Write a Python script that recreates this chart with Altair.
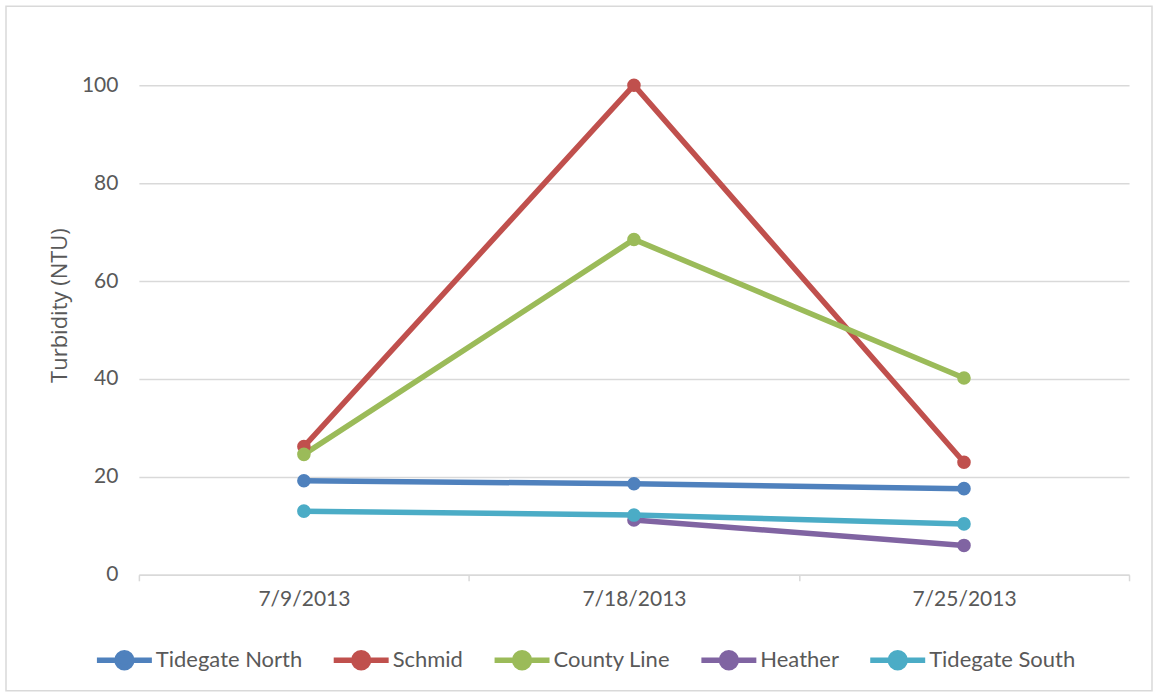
import altair as alt
import pandas as pd

dates = ["7/9/2013", "7/18/2013", "7/25/2013"]
series = ["Tidegate North", "Schmid", "County Line", "Heather", "Tidegate South"]
tidegate_north = [19.2, 18.6, 17.6]
schmid = [26.2, 100.0, 23.0]
county_line = [24.6, 68.5, 40.2]
heather = [None, 11.2, 6.0]
tidegate_south = [13.0, 12.2, 10.4]
colors = ["#4F81BD", "#C0504D", "#9BBB59", "#8064A2", "#4BACC6"]
y_ticks = [0, 20, 40, 60, 80, 100]

rows = []
for name, vals in zip(series, [tidegate_north, schmid, county_line, heather, tidegate_south]):
    for d, v in zip(dates, vals):
        if v is not None:
            rows.append({"date": d, "series": name, "value": v})
df = pd.DataFrame(rows)

FONT = "Lato"
TXT = "#595959"
GRID = "#d9d9d9"

x = alt.X(
    "date:N", sort=dates, bandPosition=0.5,
    scale=alt.Scale(type="band", paddingInner=0, paddingOuter=0),
    axis=alt.Axis(title=None, tickBand="extent", grid=False, domainColor=GRID,
                  domainWidth=1.5, tickColor=GRID, tickSize=6, tickWidth=1.5,
                  labelPadding=8, labelFontSize=21, labelColor=TXT, labelFont=FONT,
                  labelAngle=0),
)
y = alt.Y(
    "value:Q", scale=alt.Scale(domain=[0, 100], nice=False),
    axis=alt.Axis(values=y_ticks, title="Turbidity (NTU)", domain=False, ticks=False,
                  tickSize=0, labelPadding=21, labelFontSize=21, labelColor=TXT,
                  labelFont=FONT, gridColor=GRID, gridWidth=1.5, titleFont="Open Sans",
                  titleFontSize=22, titleFontWeight="normal", titleColor=TXT,
                  titlePadding=10, titleY=220),
)
legend_path = "M-1,0L1,0M-0.27,0A0.27,0.27,0,1,1,0.27,0A0.27,0.27,0,1,1,-0.27,0Z"
color = alt.Color(
    "series:N", sort=series,
    scale=alt.Scale(domain=series, range=colors),
    legend=alt.Legend(
        title=None, orient="none", direction="horizontal", legendX=-45, legendY=545,
        symbolType=legend_path, symbolSize=3025, symbolStrokeWidth=5.5,
        labelFont=FONT, labelFontSize=22, labelColor=TXT, labelOffset=1,
        columnPadding=20, symbolOpacity=1,
    ),
)

base = alt.Chart(df)
lines = base.mark_line(strokeWidth=5.5).encode(x=x, y=y, color=color)
points = base.mark_circle(size=185, opacity=1).encode(x=x, y=y, color=color)

border = alt.Chart(pd.DataFrame({"a": [0]})).mark_rect(
    filled=False, stroke=GRID, strokeWidth=1.5
).encode(x=alt.value(-133), x2=alt.value(1014), y=alt.value(-79), y2=alt.value(606))

chart = alt.layer(border, lines, points).properties(
    width=991, height=490,
    padding={"left": 5, "top": 5, "right": 0, "bottom": 0},
    background="white",
).configure_view(strokeWidth=0)

chart.save("out.html", embed_options={"renderer": "svg", "actions": False})
